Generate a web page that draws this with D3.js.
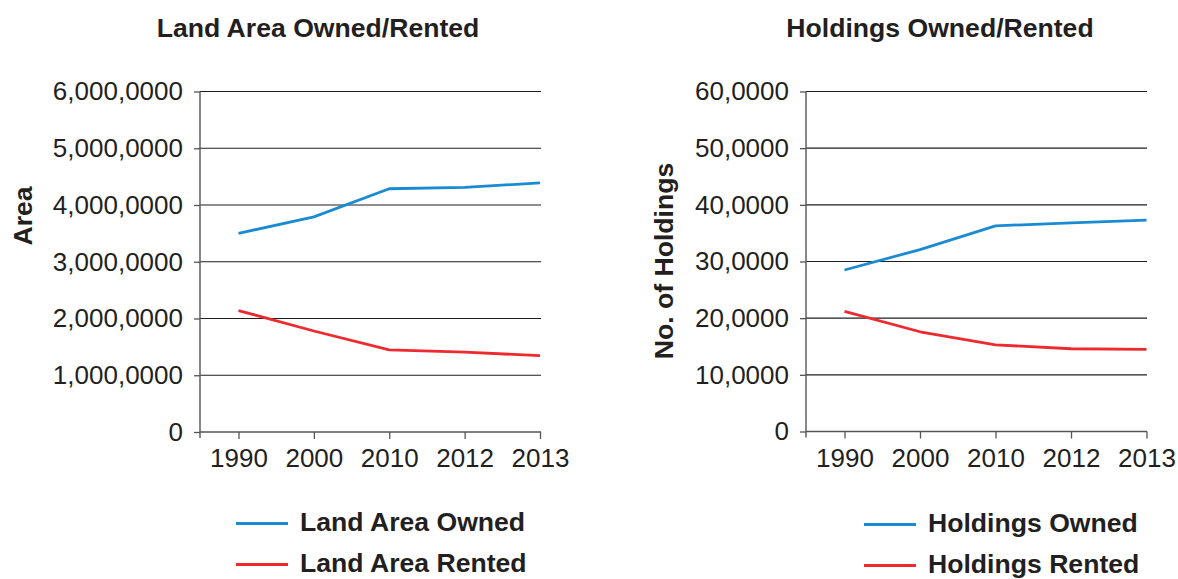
<!DOCTYPE html>
<html>
<head>
<meta charset="utf-8">
<script src="https://cdn.jsdelivr.net/npm/d3@7"></script>
<style>
  html, body { margin: 0; padding: 0; background: #fff; }
  svg { display: block; font-family: "Liberation Sans", Arial, Helvetica, sans-serif; }
</style>
</head>
<body>
<svg id="chart" width="1178" height="579"></svg>
<script>
// ---- data ----
const years = ["1990", "2000", "2010", "2012", "2013"];

const landOwned  = [35000000, 37900000, 42860000, 43090000, 43900000];
const landRented = [21400000, 17800000, 14460000, 14060000, 13460000];

const holdingsOwned  = [285000, 321000, 363000, 368000, 373000];
const holdingsRented = [212000, 176000, 153000, 146000, 145000];

const landTicks = [0, 10000000, 20000000, 30000000, 40000000, 50000000, 60000000];
const landTickLabels = ["0", "1,000,0000", "2,000,0000", "3,000,0000", "4,000,0000", "5,000,0000", "6,000,0000"];

const holdingTicks = [0, 100000, 200000, 300000, 400000, 500000, 600000];
const holdingTickLabels = ["0", "10,0000", "20,0000", "30,0000", "40,0000", "50,0000", "60,0000"];

// ---- styling ----
const BLUE = "#1a8bd2";
const RED = "#ee2a2e";
const TEXT = "#231f20";
const FONT = 26;
const BOLD_FONT = 26.6;

const svg = d3.select("#chart");

function panel(cfg) {
  const g = svg.append("g");
  const x = d3.scalePoint().domain(years).range([cfg.xFirst, cfg.xLast]);
  const y = d3.scaleLinear().domain([0, cfg.ticks[cfg.ticks.length - 1]]).range([cfg.y0, cfg.yTop]);

  // horizontal gridlines
  g.selectAll("line.grid")
    .data(cfg.ticks.slice(1))
    .join("line")
    .attr("class", "grid")
    .attr("x1", cfg.x0).attr("x2", cfg.x1)
    .attr("y1", d => y(d)).attr("y2", d => y(d))
    .attr("stroke", "#1e1e1e").attr("stroke-width", 1.2);

  // y axis
  const yAxis = d3.axisLeft(y)
    .tickValues(cfg.ticks)
    .tickFormat((d, i) => cfg.tickLabels[i])
    .tickSize(6).tickPadding(11);
  const ya = g.append("g").attr("transform", `translate(${cfg.x0},0)`).call(yAxis);
  ya.select(".domain").remove();
  ya.selectAll(".tick line").attr("stroke", "#555").attr("stroke-width", 1.3);
  ya.selectAll(".tick text")
    .attr("fill", TEXT).attr("font-size", FONT)
    .attr("font-family", "Liberation Sans, Arial, sans-serif");

  // x axis
  const xAxis = d3.axisBottom(x).tickSize(7).tickPadding(10);
  const xa = g.append("g").attr("transform", `translate(0,${cfg.y0})`).call(xAxis);
  xa.select(".domain").remove();
  xa.selectAll(".tick line").attr("stroke", "#555").attr("stroke-width", 1.3);
  xa.selectAll(".tick text")
    .attr("fill", TEXT).attr("font-size", FONT)
    .attr("font-family", "Liberation Sans, Arial, sans-serif");

  // axis lines
  g.append("line")
    .attr("x1", cfg.x0).attr("x2", cfg.x1)
    .attr("y1", cfg.y0).attr("y2", cfg.y0)
    .attr("stroke", "#555").attr("stroke-width", 1.4);
  g.append("line")
    .attr("x1", cfg.x0).attr("x2", cfg.x0)
    .attr("y1", cfg.yTop).attr("y2", cfg.y0 + 6)
    .attr("stroke", "#555").attr("stroke-width", 1.4);

  // series lines
  const line = d3.line()
    .x((d, i) => x(years[i]))
    .y(d => y(d));
  cfg.series.forEach(s => {
    g.append("path")
      .datum(s.values)
      .attr("d", line)
      .attr("fill", "none")
      .attr("stroke", s.color)
      .attr("stroke-width", 2.8)
      .attr("stroke-linejoin", "round");
  });

  // title
  g.append("text")
    .attr("x", cfg.titleX).attr("y", 37)
    .attr("text-anchor", "middle")
    .attr("font-size", BOLD_FONT).attr("font-weight", "bold")
    .attr("fill", TEXT)
    .text(cfg.title);

  // y axis label
  g.append("text")
    .attr("transform", `translate(${cfg.yLabelX},${cfg.yLabelY}) rotate(-90)`)
    .attr("text-anchor", "middle")
    .attr("font-size", BOLD_FONT).attr("font-weight", "bold")
    .attr("fill", TEXT)
    .text(cfg.yLabel);

  // legend
  cfg.series.forEach((s, i) => {
    const ly = cfg.legendY[i];
    g.append("line")
      .attr("x1", cfg.legendX).attr("x2", cfg.legendX + 52)
      .attr("y1", ly).attr("y2", ly)
      .attr("stroke", s.color).attr("stroke-width", 2.8);
    g.append("text")
      .attr("x", cfg.legendX + 64).attr("y", ly + 7)
      .attr("font-size", BOLD_FONT).attr("font-weight", "bold")
      .attr("fill", TEXT)
      .text(s.name);
  });
}

panel({
  x0: 200, x1: 541, xFirst: 238.5, xLast: 540,
  y0: 432, yTop: 91.5,
  ticks: landTicks, tickLabels: landTickLabels,
  title: "Land Area Owned/Rented", titleX: 318,
  yLabel: "Area", yLabelX: 32, yLabelY: 216,
  legendX: 236, legendY: [523.5, 564.5],
  series: [
    { name: "Land Area Owned", values: landOwned, color: BLUE },
    { name: "Land Area Rented", values: landRented, color: RED }
  ]
});

panel({
  x0: 806, x1: 1147, xFirst: 844.5, xLast: 1146.5,
  y0: 431.5, yTop: 91.5,
  ticks: holdingTicks, tickLabels: holdingTickLabels,
  title: "Holdings Owned/Rented", titleX: 940,
  yLabel: "No. of Holdings", yLabelX: 673, yLabelY: 261,
  legendX: 864, legendY: [524.5, 565.5],
  series: [
    { name: "Holdings Owned", values: holdingsOwned, color: BLUE },
    { name: "Holdings Rented", values: holdingsRented, color: RED }
  ]
});
</script>
</body>
</html>
